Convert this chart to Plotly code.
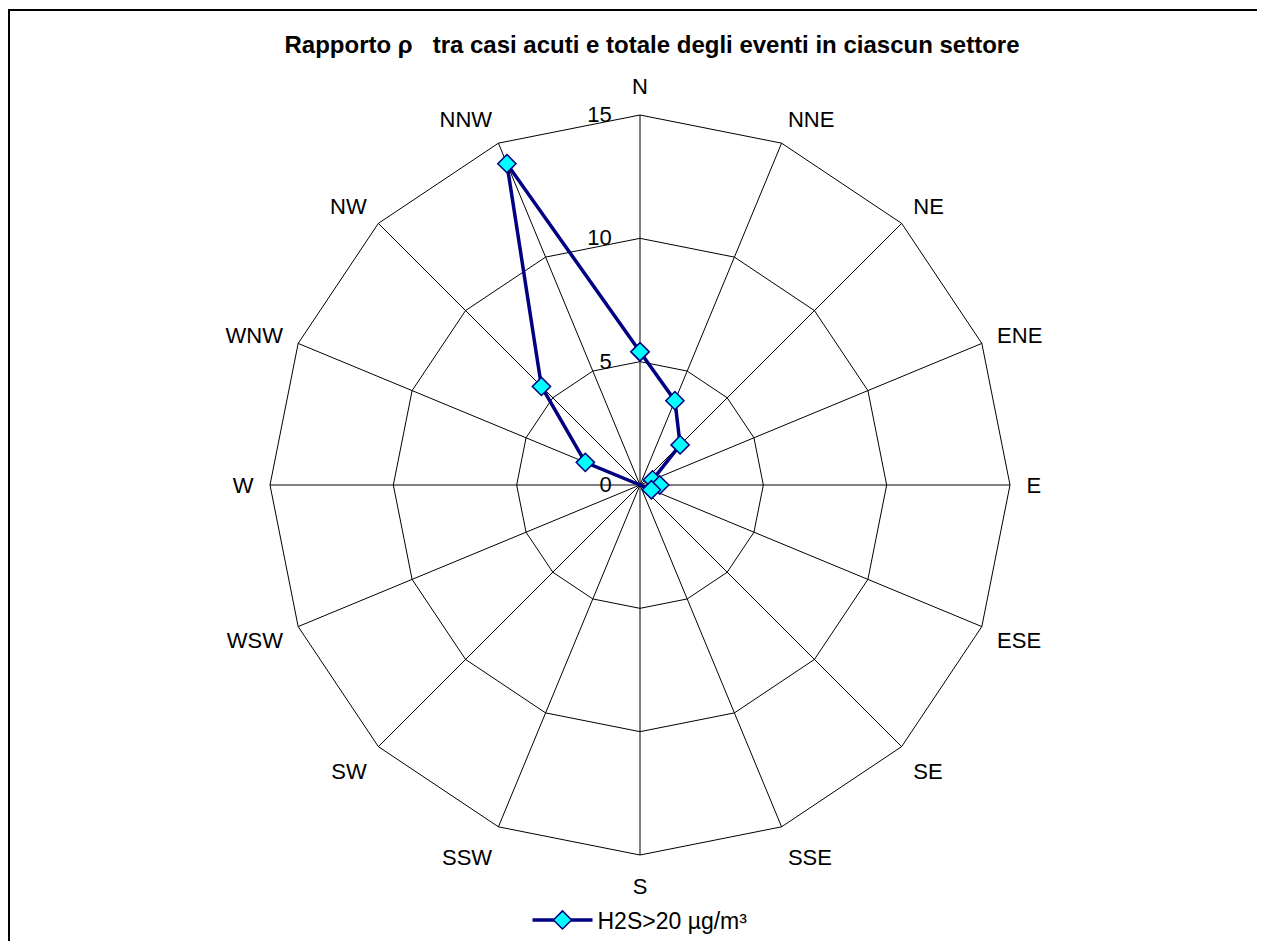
import plotly.graph_objects as go

W, H = 1265, 941

directions = ["N", "NNE", "NE", "ENE", "E", "ESE", "SE", "SSE",
              "S", "SSW", "SW", "WSW", "W", "WNW", "NW", "NNW"]
ratio_values = [5.4, 3.7, 2.3, 0.55, 0.8, 0.5, 0, 0,
                0, 0, 0, 0, 0, 2.4, 5.65, 14.1]
radial_ticks = [0, 5, 10, 15]
series_name = "H2S>20 µg/m³"
title_text = "<b>Rapporto ρ   tra casi acuti e totale degli eventi in ciascun settore</b>"

PAD = "\u00a0" * 4      # pushes the centred radial tick labels to the left of the axis

theta = directions + [directions[0]]
r = ratio_values + [ratio_values[0]]

fig = go.Figure()
fig.add_trace(go.Scatterpolar(
    r=r, theta=theta, mode="lines+markers", name=series_name,
    line=dict(color="#000080", width=3.5),
    marker=dict(symbol="diamond", size=14, color="#00FFFF",
                line=dict(color="#000080", width=1.5)),
    subplot="polar",
))
# invisible trace that carries the direction labels on a slightly larger overlay subplot
fig.add_trace(go.Scatterpolar(
    r=[0] * len(directions), theta=directions, mode="markers",
    marker=dict(opacity=0), showlegend=False, hoverinfo="skip",
    subplot="polar2",
))

# polar area (figure coords): center (632,477), radius 370 px
cx, cy, R = 632, 477, 370
R2 = 386
dom_x = [(cx - R) / W, (cx + R) / W]
dom_y = [1 - (cy + R) / H, 1 - (cy - R) / H]
dom_x2 = [(cx - R2) / W, (cx + R2) / W]
dom_y2 = [1 - (cy + R2) / H, 1 - (cy - R2) / H]

fig.update_layout(
    width=W, height=H,
    margin=dict(l=0, r=0, t=0, b=0),
    paper_bgcolor="white", plot_bgcolor="white",
    font=dict(family="Liberation Sans, Arial, sans-serif", color="black", size=22),
    title=dict(text=title_text, x=644 / W, xanchor="center",
               y=1 - 37 / H, yanchor="middle",
               font=dict(size=24, family="Liberation Sans, Arial, sans-serif")),
    polar=dict(
        domain=dict(x=dom_x, y=dom_y),
        bgcolor="white",
        gridshape="linear",
        angularaxis=dict(
            direction="clockwise", rotation=90,
            categoryorder="array", categoryarray=directions,
            showline=True, linecolor="black", linewidth=1,
            showgrid=True, gridcolor="black", gridwidth=1,
            ticks="", showticklabels=False,
        ),
        radialaxis=dict(
            range=[0, 15], tickvals=radial_ticks,
            ticktext=[f"{v}{PAD}" for v in radial_ticks],
            angle=90, tickangle=90,
            showline=False, ticks="",
            showgrid=True, gridcolor="black", gridwidth=1,
            tickfont=dict(size=22), side="counterclockwise",
        ),
    ),
    polar2=dict(
        domain=dict(x=dom_x2, y=dom_y2),
        bgcolor="rgba(0,0,0,0)",
        gridshape="linear",
        angularaxis=dict(
            direction="clockwise", rotation=90,
            categoryorder="array", categoryarray=directions,
            showline=False, showgrid=False, ticks="",
            tickfont=dict(size=22, color="black"),
        ),
        radialaxis=dict(visible=False, range=[0, 1]),
    ),
    showlegend=True,
    legend=dict(orientation="h", x=cx / W, xanchor="center",
                y=1 - 912 / H, yanchor="middle", itemwidth=60,
                font=dict(size=23), bgcolor="rgba(0,0,0,0)"),
    shapes=[
        dict(type="line", xref="paper", yref="paper",
             x0=0, x1=1, y0=1 - 2 / H, y1=1 - 2 / H,
             line=dict(color="black", width=2)),
        dict(type="line", xref="paper", yref="paper",
             x0=1 / W, x1=1 / W, y0=0, y1=1 - 2 / H,
             line=dict(color="black", width=2)),
    ],
)

fig.write_html("out.html")
